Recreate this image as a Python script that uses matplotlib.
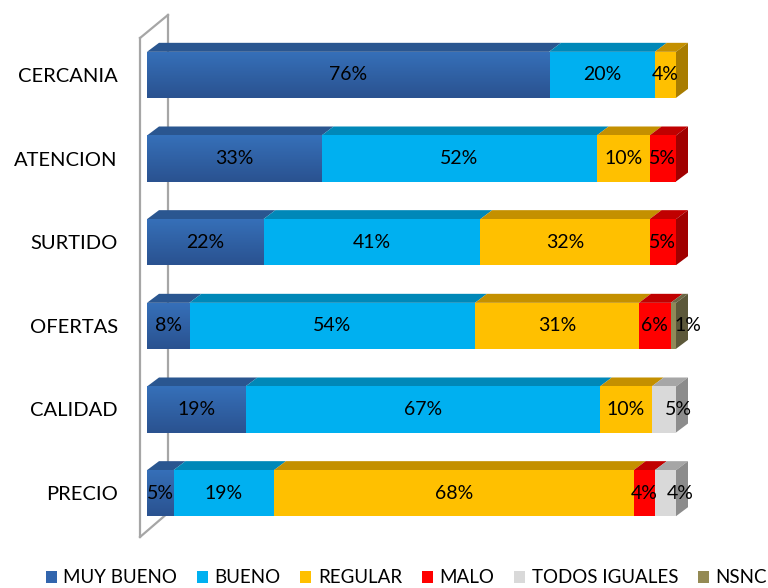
import matplotlib.pyplot as plt
from matplotlib.patches import Polygon, Patch
from matplotlib.colors import LinearSegmentedColormap
import numpy as np

plt.rcParams['font.family'] = ['Lato', 'DejaVu Sans']

# rows, bottom to top
categories = ["PRECIO", "CALIDAD", "OFERTAS", "SURTIDO", "ATENCION", "CERCANIA"]
series = ["MUY BUENO", "BUENO", "REGULAR", "MALO", "TODOS IGUALES", "NSNC"]

muy_bueno = [5, 18.6, 8, 22, 33, 76]
bueno = [19, 67, 54, 41, 52, 20]
regular = [68, 9.8, 31, 32, 10, 4]
malo = [4, 0, 6, 5, 5, 0]
todos_iguales = [4, 4.6, 0, 0, 0, 0]
nsnc = [0, 0, 1, 0, 0, 0]

values = [muy_bueno, bueno, regular, malo, todos_iguales, nsnc]

front_colors = ["#3265ad", "#00b0f0", "#ffc000", "#ff0000", "#d9d9d9", "#8f8959"]
top_colors = ["#2a5690", "#0088b8", "#c49000", "#c00000", "#a6a6a6", "#6b6644"]
side_colors = ["#234a7c", "#00729b", "#a87c00", "#a00000", "#8c8c8c", "#5c583a"]
legend_colors = ["#3265ad", "#00b0f0", "#ffc000", "#ff0000", "#d9d9d9", "#948a54"]
blue_grad = LinearSegmentedColormap.from_list("blue_grad", ["#2a5290", "#3670b9"])

fig = plt.figure(figsize=(7.68, 5.88), dpi=100)
ax = fig.add_axes([147 / 768, 53 / 588, 529 / 768, 502 / 588])

# depth of the 3d boxes in pixels -> data units
depth_x = 12 * 100 / 529
depth_y = 9 * 6 / 502
bar_h = 0.55

y = np.arange(len(categories))
left = np.zeros(len(categories))
for s, vals in enumerate(values):
    vals = np.array(vals, dtype=float)
    bars = ax.barh(y, vals, left=left, height=bar_h, color=front_colors[s],
                   linewidth=0, zorder=3)
    if s == 0:
        # vertical shading on the dark blue front faces
        grad = np.linspace(0, 1, 64).reshape(-1, 1)
        for b in bars:
            x0, y0 = b.get_x(), b.get_y()
            im = ax.imshow(grad, extent=(x0, x0 + b.get_width(), y0, y0 + b.get_height()),
                           origin='lower', cmap=blue_grad, aspect='auto', zorder=3.1)
            im.set_clip_path(b)
    for i, (l, v) in enumerate(zip(left, vals)):
        if v <= 0:
            continue
        top = y[i] + bar_h / 2
        ax.add_patch(Polygon([(l, top), (l + v, top), (l + v + depth_x, top + depth_y),
                              (l + depth_x, top + depth_y)], closed=True,
                             facecolor=top_colors[s], linewidth=0, zorder=2,
                             clip_on=False))
        tx = l + v / 2
        is_last = all(values[k][i] == 0 for k in range(s + 1, len(series)))
        if is_last and v < 5 and values[s - 1][i] < 10:
            tx += depth_x * 1.2
        ax.text(tx, y[i], f"{v:.0f}%", ha='center', va='center',
                fontsize=14, color='black', zorder=6)
    left = left + vals

# side face of the last segment in every row
for i in range(len(categories)):
    last = max(s for s in range(len(series)) if values[s][i] > 0)
    end = left[i]
    top = y[i] + bar_h / 2
    bot = y[i] - bar_h / 2
    ax.add_patch(Polygon([(end, bot), (end, top), (end + depth_x, top + depth_y),
                          (end + depth_x, bot + depth_y)], closed=True,
                         facecolor=side_colors[last], linewidth=0, zorder=4,
                         clip_on=False))

ax.set_xlim(0, 100)
ax.set_ylim(-0.5, 5.5)

# 3d side wall
wall = dict(color='#a6a6a6', lw=1.6, transform=ax.transAxes, clip_on=False)
ax.plot([-0.0132, -0.0132], [0.99, -0.004], zorder=5, **wall)
ax.plot([0.0397, 0.0397], [1.036, 0.044], zorder=1, **wall)
ax.plot([-0.0132, 0.0397], [0.99, 1.036], zorder=1, **wall)
ax.plot([-0.0132, 0.0397], [-0.004, 0.044], zorder=1, **wall)

ax.set_yticks(y)
ax.set_yticklabels(categories, fontsize=14.5)
ax.tick_params(axis='y', length=0, pad=21)
ax.set_xticks([])
for sp in ax.spines.values():
    sp.set_visible(False)

handles = [Patch(facecolor=c, edgecolor='none') for c in legend_colors]
fig.legend(handles, series, loc='lower center', bbox_to_anchor=(0.529, -0.026),
           ncol=6, frameon=False, fontsize=13.5, handlelength=0.6, handleheight=0.6,
           handletextpad=0.35, columnspacing=1.04)

fig.savefig("out.png", dpi=100)
